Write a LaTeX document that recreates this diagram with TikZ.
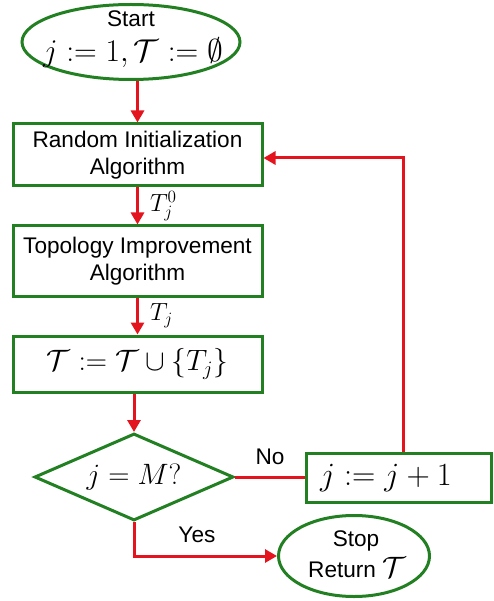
\documentclass[tikz,border=0pt]{standalone}
\usepackage{fontspec}
\setmainfont{Liberation Sans}
\usetikzlibrary{arrows.meta,shapes.geometric}
\definecolor{flowgreen}{RGB}{34,128,34}
\definecolor{flowred}{RGB}{228,20,30}
% math set at a size the CM fonts provide, then enlarged
\newcommand\scaledmath[2]{\scalebox{#1}{\fontsize{20.74}{24}\selectfont$#2$}}
\newcommand\bigmath[1]{\scaledmath{1.42}{#1}}
\begin{document}
\begin{tikzpicture}[x=1pt,y=-1pt,
  every node/.style={font=\fontsize{22.6}{27}\selectfont},
  procbox/.style={draw=flowgreen,line width=3pt,rectangle,inner sep=0pt,align=center},
  term/.style={draw=flowgreen,line width=3pt,ellipse,inner sep=0pt},
  decision/.style={draw=flowgreen,line width=3pt,diamond,inner sep=0pt,aspect=2.29,minimum width=199pt,minimum height=87pt},
  flow/.style={draw=flowred,line width=3pt},
  arr/.style={flow,-{Triangle[length=12pt,width=13pt]}},
  edgelbl/.style={right,xshift=11pt,inner sep=0pt},
  lbl/.style={inner sep=0pt}]
\useasboundingbox (0,0) rectangle (494,601);

% terminal: start
\node[term,minimum width=218pt,minimum height=75pt] (start) at (131,42) {};
\node[lbl] (starttxt) at (131,18.5) {Start};
\node[lbl] (startmath) at (133,53) {\scaledmath{1.52}{j:=1,\mathcal{T}:=\emptyset}};

% processing steps
\node[procbox,minimum width=249pt,minimum height=62pt] (init) at (137.5,155) {Random Initialization\\Algorithm};
\node[procbox,minimum width=249pt,minimum height=70pt] (improve) at (137.5,261) {Topology Improvement\\Algorithm};
\node[procbox,minimum width=249pt,minimum height=56pt] (collect) at (137.5,364) {\bigmath{\mathcal{T}:=\mathcal{T}\cup\{T_j\}}};

% decision and counter
\node[decision] (check) at (134,477) {\bigmath{j=M?}};
\node[procbox,minimum width=185pt,minimum height=49pt] (incr) at (399,477.5) {};
\node[lbl] (incrmath) at (386,478) {\scaledmath{1.56}{j:=j+1}};

% terminal: stop
\node[term,minimum width=151pt,minimum height=81pt] (stop) at (354,556) {};
\node[lbl] (stoptxt) at (356,541) {Stop};
\node[lbl] (stopret) at (357,568) {Return \bigmath{\mathcal{T}}};

% connectors
\draw[arr] (start.south -| init.north) -- (init.north);
\draw[arr] (init) -- node[edgelbl] (t0lbl) {\scaledmath{1.2}{T_j^0}} (improve);
\draw[arr] (improve) -- node[edgelbl] (tjlbl) {\scaledmath{1.2}{T_j}} (collect);
\draw[arr] (collect.south -| check.north) -- (check.north);
\draw[flow] (check.east) -- node[above,yshift=7pt] (nolbl) {No} (incr.west |- check.east);
\draw[arr] ([xshift=4pt]incr.north) |- ([yshift=-3pt]init.east);
\draw[arr] (check.south) |- node[pos=0.72,above,yshift=8pt] (yeslbl) {Yes} (stop.west);
\end{tikzpicture}
\end{document}
